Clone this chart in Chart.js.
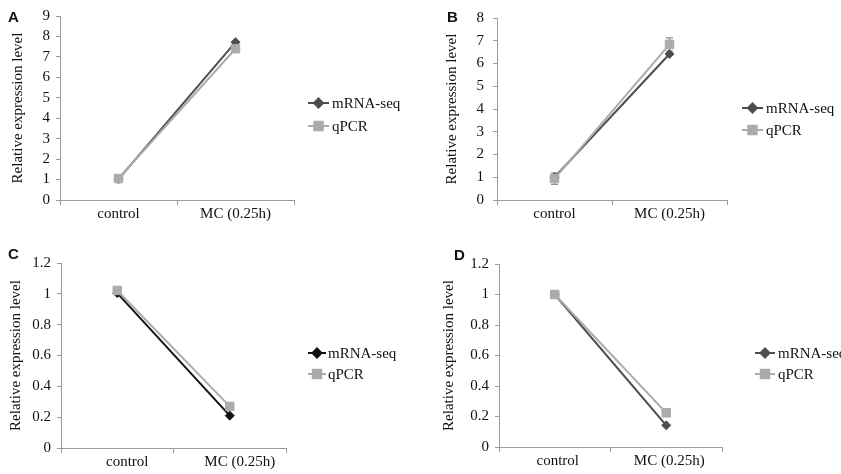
<!DOCTYPE html>
<html>
<head>
<meta charset="utf-8">
<script src="https://cdn.jsdelivr.net/npm/chart.js@4.4.1/dist/chart.umd.min.js"></script>
<style>
  html, body { margin: 0; padding: 0; background: #ffffff; overflow: hidden; }
  body { width: 841px; height: 474px; position: relative; }
  .panel { position: absolute; }
  .letter { position: absolute; font-family: "Liberation Sans", Arial, sans-serif; font-weight: bold; font-size: 15px; color: #111; line-height: 1; }
</style>
</head>
<body>
<div class="panel" style="left:0;top:0;"><canvas id="cA" width="420" height="237"></canvas></div>
<div class="panel" style="left:420px;top:0;"><canvas id="cB" width="421" height="237"></canvas></div>
<div class="panel" style="left:0;top:237px;"><canvas id="cC" width="420" height="237"></canvas></div>
<div class="panel" style="left:420px;top:237px;"><canvas id="cD" width="421" height="237"></canvas></div>
<div class="letter" style="left:8px;top:9px;">A</div>
<div class="letter" style="left:447px;top:9px;">B</div>
<div class="letter" style="left:8px;top:246px;">C</div>
<div class="letter" style="left:454px;top:247px;">D</div>
<script>
// ---------- data ----------
const categories = ['control', 'MC (0.25h)'];
const seriesNames = ['mRNA-seq', 'qPCR'];

const A_mrna = [1.02, 7.72];
const A_qpcr = [1.05, 7.40];

const B_mrna = [1.00, 6.42];
const B_qpcr = [0.94, 6.84];
const B_qpcr_err = [0.25, 0.29];

const C_mrna = [1.005, 0.21];
const C_qpcr = [1.022, 0.27];

const D_mrna = [1.00, 0.142];
const D_qpcr = [1.00, 0.224];

const yMaxAB = [9, 8];
const yStepAB = 1;
const yMaxCD = 1.2;
const yStepCD = 0.2;

const yTitle = 'Relative expression level';

// ---------- helpers ----------
const FONT = '"Liberation Serif", "Times New Roman", serif';
const TEXT = '#111111';
const AXIS = '#9c9c9c';
const QPCR_COLOR = '#ababab';

const errorBarPlugin = {
  id: 'errorBars',
  beforeDatasetsDraw(chart, args, opts) {
    if (!opts || !opts.errors) return;
    const ctx = chart.ctx;
    const y = chart.scales.y;
    opts.errors.forEach(function (e) {
      const meta = chart.getDatasetMeta(e.dataset);
      const data = chart.data.datasets[e.dataset].data;
      ctx.save();
      ctx.strokeStyle = e.color;
      ctx.lineWidth = 1.2;
      meta.data.forEach(function (pt, i) {
        const v = data[i], err = e.values[i];
        const yt = y.getPixelForValue(v + err);
        const yb = y.getPixelForValue(v - err);
        ctx.beginPath();
        ctx.moveTo(pt.x, yt); ctx.lineTo(pt.x, yb);
        ctx.moveTo(pt.x - 3.5, yt); ctx.lineTo(pt.x + 3.5, yt);
        ctx.moveTo(pt.x - 3.5, yb); ctx.lineTo(pt.x + 3.5, yb);
        ctx.stroke();
      });
      ctx.restore();
    });
  }
};

const legendPlugin = {
  id: 'sideLegend',
  afterDraw(chart, args, opts) {
    const ctx = chart.ctx;
    const order = opts.order;
    order.forEach(function (dsIndex, row) {
      const ds = chart.data.datasets[dsIndex];
      const yy = opts.rows[row];
      ctx.save();
      ctx.strokeStyle = ds.borderColor;
      ctx.lineWidth = ds.borderWidth;
      ctx.beginPath();
      ctx.moveTo(opts.lineX0, yy);
      ctx.lineTo(opts.lineX1, yy);
      ctx.stroke();
      ctx.fillStyle = ds.pointBackgroundColor;
      ctx.strokeStyle = ds.pointBorderColor;
      Chart.helpers.drawPoint(ctx, {
        pointStyle: ds.pointStyle,
        radius: ds.pointRadius,
        rotation: 0,
        borderWidth: 1
      }, (opts.lineX0 + opts.lineX1) / 2, yy);
      ctx.fillStyle = TEXT;
      ctx.font = '15px ' + FONT;
      ctx.textBaseline = 'middle';
      ctx.textAlign = 'left';
      ctx.fillText(ds.label, opts.textX, yy + 1);
      ctx.restore();
    });
  }
};

function fmtTick(v) {
  return String(Number(v.toFixed(1)));
}

function makeChart(id, p) {
  const datasets = [
    {
      label: seriesNames[0],
      data: p.mrna,
      borderColor: p.mrnaColor,
      backgroundColor: p.mrnaColor,
      pointBackgroundColor: p.mrnaColor,
      pointBorderColor: p.mrnaColor,
      borderWidth: 2,
      pointStyle: 'rectRot',
      pointRadius: 4.5,
      pointBorderWidth: 1,
      order: 2
    },
    {
      label: seriesNames[1],
      data: p.qpcr,
      borderColor: QPCR_COLOR,
      backgroundColor: QPCR_COLOR,
      pointBackgroundColor: QPCR_COLOR,
      pointBorderColor: QPCR_COLOR,
      borderWidth: 2,
      pointStyle: 'rect',
      pointRadius: 6,
      pointBorderWidth: 1,
      order: 1
    }
  ];
  return new Chart(document.getElementById(id), {
    type: 'line',
    data: { labels: categories, datasets: datasets },
    plugins: [errorBarPlugin, legendPlugin],
    options: {
      responsive: false,
      animation: false,
      events: [],
      layout: { padding: p.padding },
      plugins: {
        legend: { display: false },
        tooltip: { enabled: false },
        errorBars: { errors: p.errors || null },
        sideLegend: p.legend
      },
      scales: {
        x: {
          type: 'category',
          offset: true,
          afterFit(s) { s.height = p.xHeight; },
          grid: {
            offset: true,
            drawOnChartArea: false,
            drawTicks: true,
            tickLength: 5,
            color: AXIS
          },
          border: { display: true, color: AXIS, width: 1 },
          ticks: {
            color: TEXT,
            font: { family: FONT, size: 15 },
            maxRotation: 0,
            autoSkip: false,
            padding: 0,
            labelOffset: p.labelOffset || 0
          }
        },
        y: {
          min: 0,
          max: p.yMax,
          afterFit(s) { s.width = p.yWidth; },
          grid: {
            drawOnChartArea: false,
            drawTicks: true,
            tickLength: 4,
            color: AXIS
          },
          border: { display: true, color: AXIS, width: 1 },
          ticks: {
            stepSize: p.yStep,
            autoSkip: false,
            color: TEXT,
            font: { family: FONT, size: 15 },
            padding: p.yTickPad,
            callback: fmtTick
          },
          title: {
            display: true,
            text: yTitle,
            color: TEXT,
            font: { family: FONT, size: 15 },
            padding: { top: p.titlePad, bottom: 0 }
          }
        }
      }
    }
  });
}

makeChart('cA', {
  mrna: A_mrna, qpcr: A_qpcr, mrnaColor: '#4e4e4e',
  yMax: yMaxAB[0], yStep: yStepAB,
  padding: { left: 0, right: 126, top: 16, bottom: 0 },
  yWidth: 60, xHeight: 37, yTickPad: 6, titlePad: 9,
  legend: { order: [0, 1], rows: [103, 126], lineX0: 308, lineX1: 329, textX: 332 }
});

makeChart('cB', {
  mrna: B_mrna, qpcr: B_qpcr, mrnaColor: '#4e4e4e',
  yMax: yMaxAB[1], yStep: yStepAB,
  padding: { left: 0, right: 114, top: 16, bottom: 0 },
  yWidth: 77, xHeight: 37, yTickPad: 9, titlePad: 23,
  errors: [{ dataset: 1, values: B_qpcr_err, color: '#8f8f8f' }],
  legend: { order: [0, 1], rows: [108, 130], lineX0: 322, lineX1: 343, textX: 346 }
});

makeChart('cC', {
  mrna: C_mrna, qpcr: C_qpcr, mrnaColor: '#111111',
  yMax: yMaxCD, yStep: yStepCD,
  padding: { left: 0, right: 134, top: 26, bottom: 0 },
  yWidth: 61, xHeight: 26, yTickPad: 6, titlePad: 7, labelOffset: 10,
  legend: { order: [0, 1], rows: [116, 137], lineX0: 308, lineX1: 326, textX: 328 }
});

makeChart('cD', {
  mrna: D_mrna, qpcr: D_qpcr, mrnaColor: '#4e4e4e',
  yMax: yMaxCD, yStep: yStepCD,
  padding: { left: 0, right: 119, top: 27, bottom: 0 },
  yWidth: 79, xHeight: 27, yTickPad: 6, titlePad: 20, labelOffset: 3,
  legend: { order: [0, 1], rows: [116, 137], lineX0: 335, lineX1: 355, textX: 358 }
});
</script>
</body>
</html>
